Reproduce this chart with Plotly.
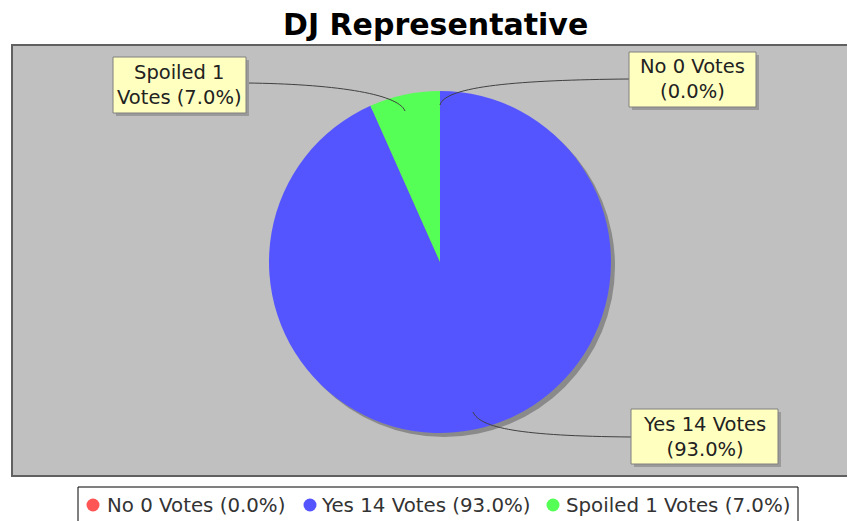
import plotly.graph_objects as go

# ---- data ----
categories = ["No", "Yes", "Spoiled"]
votes = [0, 14, 1]
percent_labels = ["0.0%", "93.0%", "7.0%"]
colors = ["#FF5555", "#5555FF", "#55FF55"]

OFF = 8  # page body margin
W, H = 855 - OFF, 521 - OFF


def px(x):
    return (x - OFF) / W


def py(y):
    return 1 - (y - OFF) / H


labels = [f"{c} {v} Votes ({p})" for c, v, p in zip(categories, votes, percent_labels)]

# pie geometry (pixels in reference)
cx, cy, r = 440, 262, 171
shadow_off = 4
FONT = "DejaVu Sans"

fig = go.Figure()

# shadow pie
fig.add_trace(go.Pie(
    values=[sum(votes)], labels=["shadow"], sort=False,
    marker=dict(colors=["#8a8a8a"], line=dict(width=0)),
    textinfo="none", hoverinfo="skip", showlegend=False,
    domain=dict(x=[px(cx + shadow_off - r), px(cx + shadow_off + r)],
                y=[py(cy + shadow_off + r), py(cy + shadow_off - r)]),
))

fig.add_trace(go.Pie(
    values=votes, labels=labels, sort=False, direction="clockwise", rotation=0,
    marker=dict(colors=colors, line=dict(width=0)),
    textinfo="none", hoverinfo="label+value", showlegend=False,
    domain=dict(x=[px(cx - r), px(cx + r)], y=[py(cy + r), py(cy - r)]),
))

shapes = []
annotations = []
# plot area
shapes.append(dict(type="rect", xref="paper", yref="paper", layer="below",
                   x0=px(12), x1=px(880), y0=py(476), y1=py(45),
                   fillcolor="#C0C0C0", line=dict(color="#606060", width=2)))


def path(pts):
    (x0, y0), (x1, y1), (x2, y2), (x3, y3) = pts
    return (f"M {px(x0)},{py(y0)} C {px(x1)},{py(y1)} {px(x2)},{py(y2)} "
            f"{px(x3)},{py(y3)}")


leaders = [
    [(629, 79), (520, 80), (445, 86), (440, 105)],
    [(247, 83), (330, 84), (398, 93), (405, 111)],
    [(631, 437), (520, 436), (480, 428), (473, 412)],
]
for pts in leaders:
    shapes.append(dict(type="path", xref="paper", yref="paper", layer="above",
                       path=path(pts), line=dict(color="#404040", width=1)))

boxes = [
    ((629, 52, 756, 107), "No 0 Votes<br>(0.0%)"),
    ((113, 57, 246, 113), "Spoiled 1<br>Votes (7.0%)"),
    ((631, 409, 778, 464), "Yes 14 Votes<br>(93.0%)"),
]
for (x0, y0, x1, y1), txt in boxes:
    shapes.append(dict(type="rect", xref="paper", yref="paper", layer="above",
                       x0=px(x0 + 3), x1=px(x1 + 3), y0=py(y1 + 3), y1=py(y0 + 3),
                       fillcolor="#9a9a9a", line=dict(width=0)))
    shapes.append(dict(type="rect", xref="paper", yref="paper", layer="above",
                       x0=px(x0), x1=px(x1), y0=py(y1), y1=py(y0),
                       fillcolor="#FFFFC0", line=dict(color="#808080", width=1)))
    annotations.append(dict(xref="paper", yref="paper", x=px((x0 + x1) / 2),
                            y=py((y0 + y1) / 2), text=txt, showarrow=False,
                            xanchor="center", yanchor="middle",
                            font=dict(family=FONT, size=19.5, color="#222222")))

# title
annotations.append(dict(xref="paper", yref="paper", x=px(435), y=py(24),
                        text="<b>DJ Representative</b>", showarrow=False,
                        xanchor="center", yanchor="middle",
                        font=dict(family="DejaVu Sans", size=30, color="#000000")))

# legend (drawn manually to match layout)
shapes.append(dict(type="rect", xref="paper", yref="paper", layer="above",
                   x0=px(78), x1=px(798), y0=py(545), y1=py(487),
                   fillcolor="white", line=dict(color="#000000", width=1)))
dot_x = [93, 310, 553]
text_x = [107, 321, 566]
ly = 505
dr = 6.5
for lab, col, dx, tx in zip(labels, colors, dot_x, text_x):
    shapes.append(dict(type="circle", xref="paper", yref="paper", layer="above",
                       x0=px(dx - dr), x1=px(dx + dr), y0=py(ly + dr), y1=py(ly - dr),
                       fillcolor=col, line=dict(width=0)))
    annotations.append(dict(xref="paper", yref="paper", x=px(tx), y=py(ly),
                            text=lab, showarrow=False, xanchor="left", yanchor="middle",
                            xshift=-2,
                            font=dict(family=FONT, size=19.8, color="#333333")))

fig.update_layout(
    width=W, height=H,
    margin=dict(l=0, r=0, t=0, b=0, pad=0, autoexpand=False),
    paper_bgcolor="white", plot_bgcolor="rgba(0,0,0,0)",
    shapes=shapes, annotations=annotations,
    showlegend=False,
    hovermode=False,
)

fig.write_html("out.html")
